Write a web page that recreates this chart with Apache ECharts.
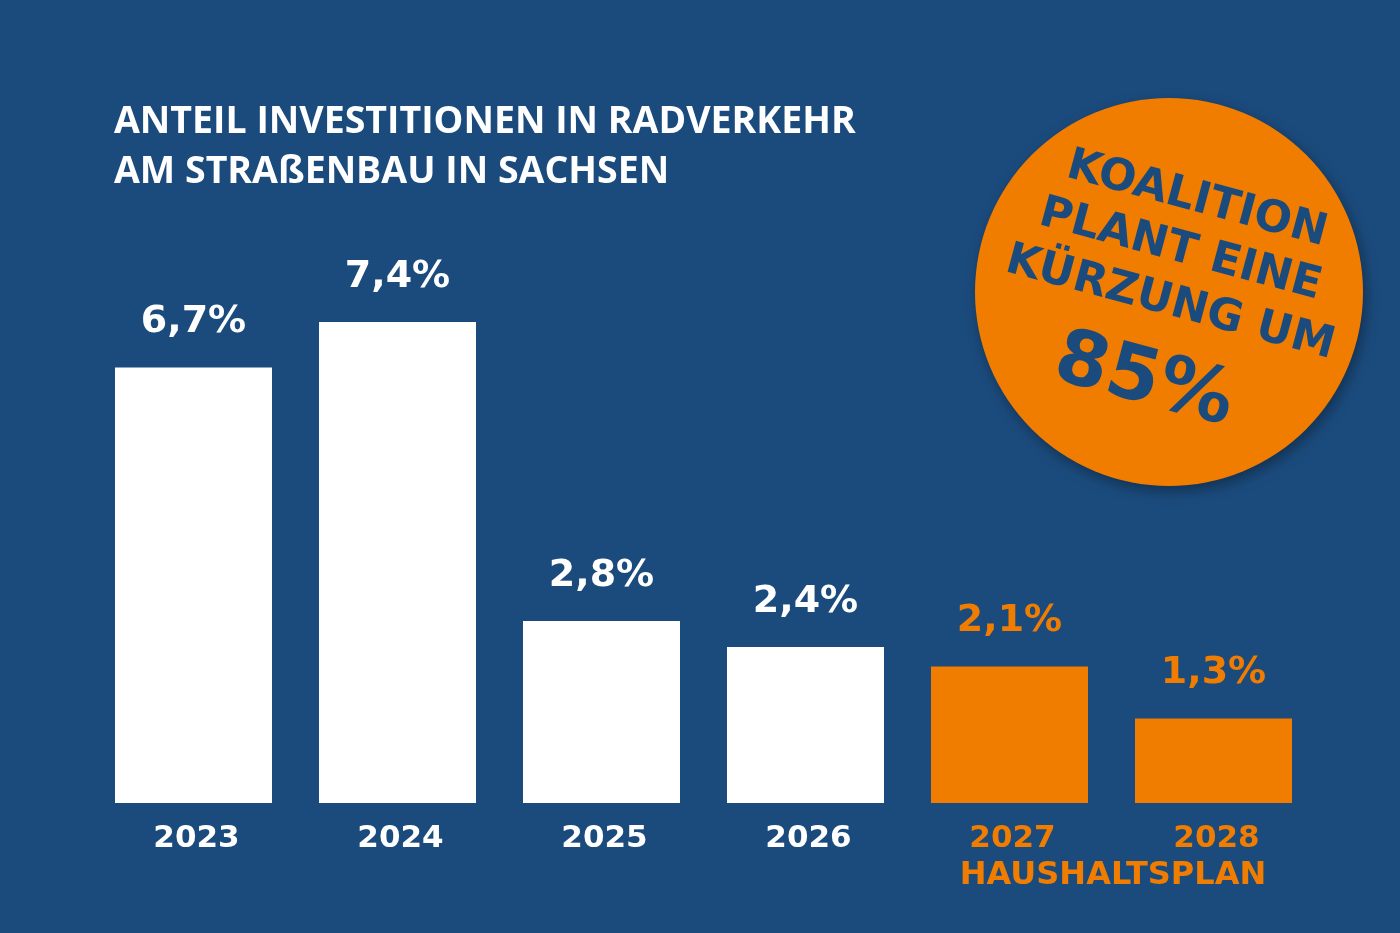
<!DOCTYPE html>
<html>
<head>
<meta charset="utf-8">
<script src="https://cdn.jsdelivr.net/npm/echarts@6/dist/echarts.min.js"></script>
<style>
html,body{margin:0;padding:0;background:#1b4b7d;}
#c{width:1400px;height:933px;}
</style>
</head>
<body>
<div id="c"></div>
<script>
const years = ['2023', '2024', '2025', '2026', '2027', '2028'];
const shares = [6.7, 7.4, 2.8, 2.4, 2.1, 1.3];
const planned = [false, false, false, false, true, true];
const titleLines = ['ANTEIL INVESTITIONEN IN RADVERKEHR', 'AM STRAßENBAU IN SACHSEN'];
const badgeLines = ['KOALITION', 'PLANT EINE', 'KÜRZUNG UM', '85%'];
const planLabel = 'HAUSHALTSPLAN';

const WHITE = '#ffffff';
const ORANGE = '#f07d00';
const BLUE = '#1b4b7d';
const FONT = 'DejaVu Sans';

const chart = echarts.init(document.getElementById('c'));
const deg = Math.PI / 180;

chart.setOption({
  backgroundColor: BLUE,
  animation: false,
  grid: { left: 91.5, right: 84.5, top: 283, bottom: 130, containLabel: false },
  xAxis: {
    type: 'category',
    data: years,
    axisLine: { show: false },
    axisTick: { show: false },
    axisLabel: {
      margin: 20,
      padding: [0, 0, 0, 6],
      fontFamily: FONT,
      fontWeight: 'bold',
      fontSize: 31,
      color: (v, i) => planned[i] ? ORANGE : WHITE
    }
  },
  yAxis: { type: 'value', min: 0, max: 8, show: false, splitLine: { show: false } },
  series: [{
    type: 'bar',
    barWidth: 157,
    data: shares.map((v, i) => ({
      value: v,
      itemStyle: { color: planned[i] ? ORANGE : WHITE },
      label: { color: planned[i] ? ORANGE : WHITE }
    })),
    label: {
      show: true,
      position: 'top',
      distance: 26,
      fontFamily: FONT,
      fontWeight: 'bold',
      fontSize: 38,
      formatter: p => String(p.value).replace('.', ',') + '%'
    }
  }],
  graphic: [
    {
      type: 'text', left: 114, top: 103,
      style: { text: titleLines[0], fill: WHITE, font: 'bold 37.5px "Open Sans"' }
    },
    {
      type: 'text', left: 114, top: 153,
      style: { text: titleLines[1], fill: WHITE, font: 'bold 37.5px "Open Sans"' }
    },
    {
      type: 'text', x: 1113, y: 876,
      style: { text: planLabel, fill: ORANGE, font: 'bold 32px ' + FONT, align: 'center', verticalAlign: 'middle' }
    },
    {
      type: 'circle',
      shape: { cx: 1169, cy: 292, r: 194 },
      style: { fill: ORANGE, shadowBlur: 14, shadowColor: 'rgba(0,0,0,0.35)', shadowOffsetX: 3, shadowOffsetY: 5 }
    },
    {
      type: 'group',
      x: 1170, y: 292,
      rotation: -15 * deg,
      children: [
        { type: 'text', x: 2, y: -96, style: { text: badgeLines[0], fill: BLUE, font: 'bold 44px ' + FONT, align: 'center', verticalAlign: 'middle' } },
        { type: 'text', x: -1, y: -43, style: { text: badgeLines[1], fill: BLUE, font: 'bold 44px ' + FONT, align: 'center', verticalAlign: 'middle' } },
        { type: 'text', x: 3, y: 11, style: { text: badgeLines[2], fill: BLUE, font: 'bold 44px ' + FONT, align: 'center', verticalAlign: 'middle' } },
        { type: 'text', x: -2, y: 94, style: { text: badgeLines[3], fill: BLUE, font: 'bold 76px ' + FONT, align: 'center', verticalAlign: 'middle' } }
      ]
    }
  ]
});
</script>
</body>
</html>
